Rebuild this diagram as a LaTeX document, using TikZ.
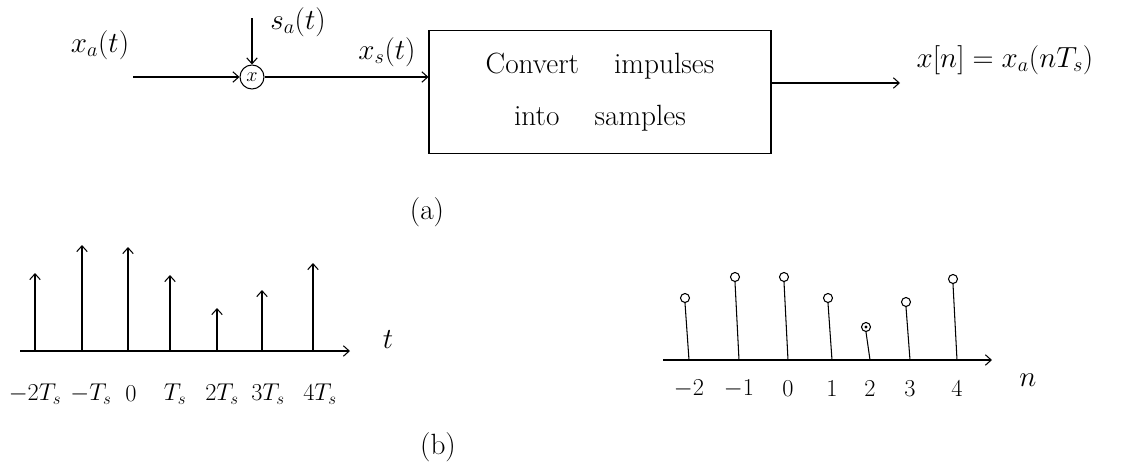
\documentclass[tikz,border=0pt]{standalone}
\usetikzlibrary{arrows.meta}
\begin{document}
\begin{tikzpicture}[x=0.03cm,y=-0.03cm,
  line width=0.9pt,
  arr/.style={-{Straight Barb[length=5pt,width=9pt]}},
  lbl/.style={font=\fontsize{25}{30}\selectfont, inner sep=0pt},
  tick/.style={font=\fontsize{21}{25}\selectfont, inner sep=0pt},
  mult/.style={draw, circle, minimum size=0.72cm, inner sep=0pt, font=\fontsize{18}{20}\selectfont},
  convbox/.style={draw, minimum width=10.26cm, minimum height=3.69cm, align=center,
    font=\fontsize{25}{44}\selectfont},
  stemdot/.style={draw, circle, minimum size=0.27cm, inner sep=0pt, fill=white}]
\useasboundingbox (0,0) rectangle (1134,464);
% ---- (a) block diagram ----
\node[lbl] (xa) at (100,45) {$x_a(t)$};
\coordinate (inp) at (133,77);
\node[mult] (m) at (252,77) {$x$};
\coordinate (stop) at (252,18);
\node[lbl] (sa) at (298,22) {$s_a(t)$};
\node[convbox] (conv) at (600,92) {Convert\hspace{1.2em}impulses\\into\hspace{1.2em}samples};
\node[lbl] (xs) at (387,52) {$x_s(t)$};
\coordinate (outp) at (900,83);
\node[lbl] (xn) at (1005,60) {$x[n]=x_a(nT_s)$};
\draw[arr] (inp) -- (m.west);
\draw[arr] (stop) -- (m.north);
\draw[arr] (m.east) -- (m.east -| conv.west);
\draw[arr] (outp -| conv.east) -- (outp);
\node[lbl] (capa) at (427,212) {(a)};
% ---- (b) left: impulse train ----
\coordinate (axL0) at (20,351);
\coordinate (axL1) at (350,351);
\draw[arr] (axL0) -- (axL1);
\node[lbl] (tl) at (388,340) {$t$};
\foreach \i/\x/\top/\lx/\lab in {1/35/273/35/-2T_s, 2/82/245/91/-T_s, 3/128/247/131/0, 4/170/275/175/T_s, 5/217/308/222/2T_s, 6/262/290/268/3T_s, 7/313/263/320/4T_s}{
  \coordinate (b\i) at (\x,351);
  \coordinate (t\i) at (\x,\top);
  \draw[arr] (b\i) -- (t\i);
  \node[tick] (tk\i) at (\lx,394) {$\lab$};
}
% ---- (b) right: samples ----
\coordinate (axR0) at (663,360);
\coordinate (axR1) at (992,360);
\draw[arr] (axR0) -- (axR1);
\node[lbl] (nl) at (1028,380) {$n$};
\foreach \i/\x/\top/\lab in {1/689/298/-2, 2/739/277/-1, 3/788/277/0, 4/832/298/1, 5/870/327/2, 6/910/302/3, 7/957/279/4}{
  \coordinate (sb\i) at (\x,360);
  \node[stemdot] (sd\i) at (\x-4,\top) {};
  \draw (sb\i) -- (sd\i.south);
  \node[tick] (sl\i) at (\x,389) {$\lab$};
}
\fill (sd5.center) circle (1.3pt);
\node[lbl] (capb) at (438,447) {(b)};
\end{tikzpicture}
\end{document}
